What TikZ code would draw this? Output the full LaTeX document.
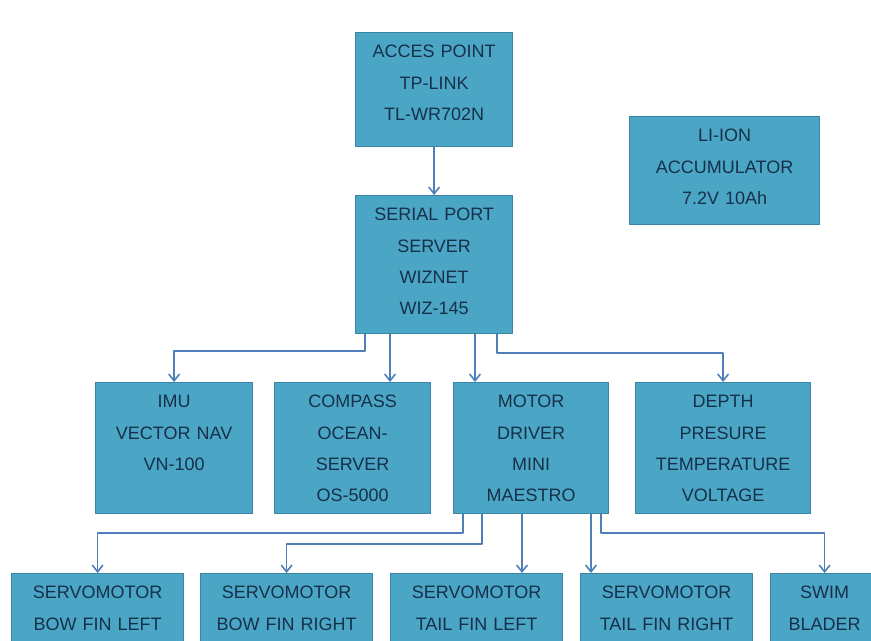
\documentclass[tikz,border=0pt]{standalone}
\usepackage{fontspec}
\setmainfont{Liberation Sans}
\usepackage{xcolor}
\usetikzlibrary{arrows.meta}
\definecolor{boxfill}{HTML}{4BA6C6}
\definecolor{boxline}{HTML}{3A84A6}
\definecolor{wirecol}{HTML}{4F7FB8}
\definecolor{ink}{HTML}{163049}
\tikzset{
  every picture/.style={line join=round, >=Stealth},
  blk/.style 2 args={draw=boxline, fill=boxfill, line width=0.9pt, text=ink,
    anchor=north west, inner sep=0pt, align=center, text width=#1,
    text height=19pt, text depth=#2, font=\fontsize{13.5}{23.5}\selectfont},
  wire/.style={draw=wirecol, line width=1.2pt, -{Straight Barb[length=5pt,width=8pt]}},
}

\begin{document}
\begin{tikzpicture}[x=0.75pt,y=-0.75pt]
\useasboundingbox (0,0) rectangle (871,640);
\clip (0,0) rectangle (871,640);
% top of the chain
\node[blk={117.75pt}{66.5pt}] (ap) at (355,32) {ACCES POINT\\TP-LINK\\TL-WR702N};
\node[blk={117.75pt}{84.5pt}] (ser) at (355,195) {SERIAL PORT\\SERVER\\WIZNET\\WIZ-145};
\node[blk={142.5pt}{62pt}] (bat) at (629,116) {LI-ION\\ACCUMULATOR\\7.2V 10Ah};
% sensors and driver
\node[blk={117.75pt}{79.25pt}] (imu) at (95,382) {IMU\\VECTOR NAV\\VN-100};
\node[blk={117pt}{79.25pt}] (comp) at (274,382) {COMPASS\\OCEAN-\\SERVER\\OS-5000};
\node[blk={116.25pt}{79.25pt}] (mot) at (453,382) {MOTOR\\DRIVER\\MINI\\MAESTRO};
\node[blk={131.25pt}{79.25pt}] (dep) at (635,382) {DEPTH\\PRESURE\\TEMPERATURE\\VOLTAGE};
% actuators
\node[blk={129pt}{79.25pt}] (bfl) at (11,573) {SERVOMOTOR\\BOW FIN LEFT};
\node[blk={129pt}{79.25pt}] (bfr) at (200,573) {SERVOMOTOR\\BOW FIN RIGHT};
\node[blk={129pt}{79.25pt}] (tfl) at (390,573) {SERVOMOTOR\\TAIL FIN LEFT};
\node[blk={129pt}{79.25pt}] (tfr) at (580,573) {SERVOMOTOR\\TAIL FIN RIGHT};
\node[blk={81pt}{79.25pt}] (swim) at (770,573) {SWIM\\BLADER};
% wires
\coordinate (s1) at ([xshift=7.5pt]ser.south west);
\coordinate (s2) at ([xshift=26.25pt]ser.south west);
\coordinate (s3) at ([xshift=90pt]ser.south west);
\coordinate (s4) at ([xshift=106.5pt]ser.south west);
\coordinate (m1) at ([xshift=7.5pt]mot.south west);
\coordinate (m2) at ([xshift=21.75pt]mot.south west);
\coordinate (m3) at ([xshift=51.75pt]mot.south west);
\coordinate (m4) at ([xshift=103.5pt]mot.south west);
\coordinate (m5) at ([xshift=111pt]mot.south west);
\draw[wire] (ap) -- (ser);
\draw[wire] (s1) -- ++(0pt,-12.75pt) -| (imu.north);
\draw[wire] (s2) -- (s2 |- comp.north);
\draw[wire] (s3) -- (s3 |- mot.north);
\draw[wire] (s4) -- ++(0pt,-14.25pt) -| (dep.north);
\draw[wire] (m1) -- ++(0pt,-14.25pt) -| (bfl.north);
\draw[wire] (m2) -- ++(0pt,-22.5pt) -| (bfr.north);
\draw[wire] (m3) -- (m3 |- tfl.north);
\draw[wire] (m4) -- (m4 |- tfr.north);
\draw[wire] (m5) -- ++(0pt,-14.25pt) -| (swim.north);
\end{tikzpicture}
\end{document}
